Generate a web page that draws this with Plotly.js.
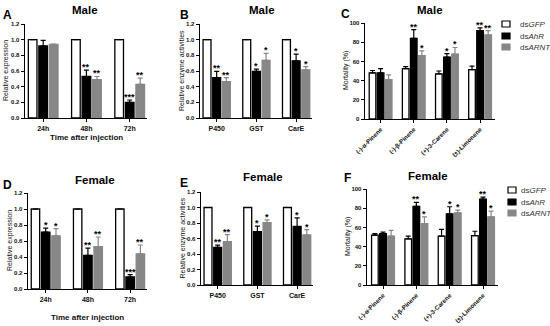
<!DOCTYPE html>
<html><head><meta charset="utf-8">
<script src="https://cdn.plot.ly/plotly-3.0.1.min.js"></script>
<style>html,body{margin:0;padding:0;background:#fff}#chart{width:550px;height:326px}</style>
</head><body><div id="chart"></div>
<script>
// ---------- data ----------
const timeCats = ['24h', '48h', '72h'];
const enzymeCats = ['P450', 'GST', 'CarE'];
const terpCats = ['(-)-α-Pinene', '(-)-β-Pinene', '(+)-3-Carene', '(±)-Limonene'];
const seriesNames = ['ds<i>GFP</i>', 'ds<i>AhR</i>', 'ds<i>ARNT</i>'];

// A: male relative expression
const maleExpGFP = [1, 1, 1], maleExpGFPErr = [0, 0, 0];
const maleExpAhR = [0.92, 0.53, 0.20], maleExpAhRErr = [0.07, 0.08, 0.03];
const maleExpARNT = [0.94, 0.49, 0.43], maleExpARNTErr = [0.005, 0.04, 0.08];
const maleExpAhRSig = ['', '**', '***'], maleExpARNTSig = ['', '**', '**'];

// B: male enzyme activities
const maleEnzGFP = [1, 1, 1], maleEnzGFPErr = [0, 0, 0];
const maleEnzAhR = [0.515, 0.595, 0.73], maleEnzAhRErr = [0.08, 0.03, 0.085];
const maleEnzARNT = [0.465, 0.735, 0.615], maleEnzARNTErr = [0.05, 0.09, 0.04];
const maleEnzAhRSig = ['**', '*', '*'], maleEnzARNTSig = ['**', '*', '*'];

// C: male mortality
const maleMortGFP = [48, 52.5, 47, 51.5], maleMortGFPErr = [2.5, 2, 3, 3.5];
const maleMortAhR = [48, 84, 64.5, 92], maleMortAhRErr = [4.5, 9, 3.5, 3];
const maleMortARNT = [41, 66, 67.5, 87.5], maleMortARNTErr = [5, 5, 7, 4.5];
const maleMortAhRSig = ['', '**', '*', '**'], maleMortARNTSig = ['', '*', '*', '**'];

// D: female relative expression
const femExpGFP = [1, 1, 1], femExpGFPErr = [0, 0, 0];
const femExpAhR = [0.71, 0.42, 0.15], femExpAhRErr = [0.05, 0.09, 0.03];
const femExpARNT = [0.665, 0.53, 0.44], femExpARNTErr = [0.09, 0.12, 0.11];
const femExpAhRSig = ['*', '**', '***'], femExpARNTSig = ['*', '**', '**'];

// E: female enzyme activities
const femEnzGFP = [1, 1, 1], femEnzGFPErr = [0, 0, 0];
const femEnzAhR = [0.485, 0.69, 0.755], femEnzAhRErr = [0.03, 0.07, 0.11];
const femEnzARNT = [0.56, 0.805, 0.645], femEnzARNTErr = [0.09, 0.035, 0.07];
const femEnzAhRSig = ['**', '*', '*'], femEnzARNTSig = ['**', '*', '*'];

// F: female mortality
const femMortGFP = [52, 48, 51, 51.5], femMortGFPErr = [1.5, 3, 7, 4.5];
const femMortAhR = [53.5, 82, 74, 89.5], femMortAhRErr = [1.5, 4, 7.5, 2];
const femMortARNT = [51, 64, 75, 71], femMortARNTErr = [6, 7, 3, 6];
const femMortAhRSig = ['', '**', '*', '**'], femMortARNTSig = ['', '*', '*', '*'];

// ---------- layout helpers ----------
const W = 550, H = 326;
const FONT = 'Liberation Sans, Arial, sans-serif';
const BARGAP = 0.27, BARGROUPGAP = 0.18;
const fills = ['#ffffff', '#000000', '#878787'];
const lines = ['#000000', '#000000', '#878787'];
const errCols = ['#000000', '#000000', '#878787'];
const fx = p => p / W, fy = p => 1 - p / H;

const panels = [
  {letter:'A', title:'Male', cats:timeCats, xd:[25,147], yd:[24,118], yr:[0,1.2], dt:0.2, xr:[-0.42,2.4], ang:0,
   vals:[maleExpGFP,maleExpAhR,maleExpARNT], errs:[maleExpGFPErr,maleExpAhRErr,maleExpARNTErr], sig:[null,maleExpAhRSig,maleExpARNTSig],
   ytitle:'Relative expression', ytx:6, xtitle:'Time after injection', xty:137, titlePos:[85,10], letterPos:[7,15]},
  {letter:'B', title:'Male', cats:enzymeCats, xd:[200,312], yd:[24,118], yr:[0,1.2], dt:0.2, xr:[-0.42,2.4], ang:0,
   vals:[maleEnzGFP,maleEnzAhR,maleEnzARNT], errs:[maleEnzGFPErr,maleEnzAhRErr,maleEnzARNTErr], sig:[null,maleEnzAhRSig,maleEnzARNTSig],
   ytitle:'Relative enzyme activities', ytx:182, xtitle:null, titlePos:[262,10], letterPos:[184,15]},
  {letter:'C', title:'Male', cats:terpCats, xd:[365,495], yd:[23,119], yr:[0,100], dt:20, xr:[-0.47,3.45], ang:-45,
   vals:[maleMortGFP,maleMortAhR,maleMortARNT], errs:[maleMortGFPErr,maleMortAhRErr,maleMortARNTErr], sig:[null,maleMortAhRSig,maleMortARNTSig],
   ytitle:'Mortality (%)', ytx:346, xtitle:null, titlePos:[430,10], letterPos:[345,14], leg:{box:502, text:518, rows:[24,36,47]}},
  {letter:'D', title:'Female', cats:timeCats, xd:[28,147], yd:[193,289], yr:[0,1.2], dt:0.2, xr:[-0.42,2.4], ang:0,
   vals:[femExpGFP,femExpAhR,femExpARNT], errs:[femExpGFPErr,femExpAhRErr,femExpARNTErr], sig:[null,femExpAhRSig,femExpARNTSig],
   ytitle:'Relative expression', ytx:10, xtitle:'Time after injection', xty:317, titlePos:[95,180], letterPos:[7,185]},
  {letter:'E', title:'Female', cats:enzymeCats, xd:[201,313], yd:[192,285], yr:[0,1.2], dt:0.2, xr:[-0.42,2.4], ang:0,
   vals:[femEnzGFP,femEnzAhR,femEnzARNT], errs:[femEnzGFPErr,femEnzAhRErr,femEnzARNTErr], sig:[null,femEnzAhRSig,femEnzARNTSig],
   ytitle:'Relative enzyme activities', ytx:182, xtitle:null, titlePos:[263,177], letterPos:[184,183]},
  {letter:'F', title:'Female', cats:terpCats, xd:[367,498], yd:[189,285], yr:[0,100], dt:20, xr:[-0.48,3.45], ang:-45,
   vals:[femMortGFP,femMortAhR,femMortARNT], errs:[femMortGFPErr,femMortAhRErr,femMortARNTErr], sig:[null,femMortAhRSig,femMortARNTSig],
   ytitle:'Mortality (%)', ytx:348, xtitle:null, titlePos:[428,176], letterPos:[347,178], leg:{box:508, text:519, rows:[190,202,213]}}
];

const data = [];
const annotations = [];
const shapes = [];
const layout = {
  width: W, height: H, margin: {l:0, r:0, t:0, b:0},
  paper_bgcolor: '#fff', plot_bgcolor: 'rgba(0,0,0,0)',
  barmode: 'group', bargap: BARGAP, bargroupgap: BARGROUPGAP,
  font: {family: FONT, size: 8, color: '#111'},
  showlegend: false,
  annotations: annotations, shapes: shapes
};

panels.forEach((p, pi) => {
  const n = pi + 1;
  const xs = n === 1 ? 'x' : 'x' + n, ys = n === 1 ? 'y' : 'y' + n;
  const xk = n === 1 ? 'xaxis' : 'xaxis' + n, yk = n === 1 ? 'yaxis' : 'yaxis' + n;
  const idx = p.cats.map((c, i) => i);
  for (let k = 0; k < 3; k++) {
    data.push({
      type: 'bar', x: idx, y: p.vals[k], xaxis: xs, yaxis: ys,
      name: seriesNames[k], offsetgroup: String(k), showlegend: false,
      marker: {color: fills[k], line: {color: lines[k], width: 1.3}},
      error_y: {type: 'data', symmetric: false, array: p.errs[k], arrayminus: p.errs[k].map(() => 0),
                visible: true, color: errCols[k], thickness: 1.2, width: 2.5},
      hoverinfo: 'skip'
    });
    if (p.sig[k]) {
      const slot = (1 - BARGAP) / 3;
      p.sig[k].forEach((s, i) => {
        if (!s) return;
        annotations.push({xref: xs, yref: ys, x: i + (k - 1) * slot, y: p.vals[k][i] + p.errs[k][i],
          text: s, showarrow: false, yanchor: 'bottom', yshift: -4,
          font: {family: FONT, size: 9, color: '#000', weight: 'bold'}});
      });
    }
  }
  layout[xk] = {domain: [fx(p.xd[0]), fx(p.xd[1])], anchor: ys, range: p.xr,
    tickvals: idx, ticktext: p.cats, tickangle: p.ang,
    showline: true, linecolor: '#000', linewidth: 1.4, ticks: 'outside', ticklen: 3, tickwidth: 1, tickcolor: '#000',
    showgrid: false, zeroline: false,
    tickfont: {family: FONT, size: p.ang ? 6.2 : 7, color: '#111', weight: 'bold'}};
  layout[yk] = {domain: [fy(p.yd[1]), fy(p.yd[0])], anchor: xs, range: p.yr, dtick: p.dt, tick0: 0,
    tickformat: p.dt < 1 ? '.1f' : 'd',
    showline: true, linecolor: '#000', linewidth: 1.4, ticks: 'outside', ticklen: 3, tickwidth: 1, tickcolor: '#000',
    showgrid: false, zeroline: false,
    tickfont: {family: FONT, size: 6, color: '#111', weight: 'bold'}};
  // panel title
  annotations.push({xref:'paper', yref:'paper', x: fx(p.titlePos[0]), y: fy(p.titlePos[1]), text: p.title,
    showarrow:false, xanchor:'center', yanchor:'middle', font:{family:FONT, size:11.5, color:'#000', weight:'bold'}});
  // panel letter
  annotations.push({xref:'paper', yref:'paper', x: fx(p.letterPos[0]), y: fy(p.letterPos[1]), text: p.letter,
    showarrow:false, xanchor:'center', yanchor:'middle', font:{family:FONT, size:12, color:'#000', weight:'bold'}});
  // y title
  annotations.push({xref:'paper', yref:'paper', x: fx(p.ytx), y: fy((p.yd[0] + p.yd[1]) / 2), text: p.ytitle,
    textangle: -90, showarrow:false, xanchor:'center', yanchor:'middle', font:{family:FONT, size:7, color:'#111'}});
  if (p.xtitle) {
    annotations.push({xref:'paper', yref:'paper', x: fx((p.xd[0] + p.xd[1]) / 2), y: fy(p.xty), text: p.xtitle,
      showarrow:false, xanchor:'center', yanchor:'middle', font:{family:FONT, size:8, color:'#111', weight:'bold'}});
  }
  if (p.leg) {
    seriesNames.forEach((nm, k) => {
      const r = p.leg.rows[k];
      shapes.push({type:'rect', xref:'paper', yref:'paper', x0: fx(p.leg.box), x1: fx(p.leg.box + 8),
        y0: fy(r + 3), y1: fy(r - 3), fillcolor: fills[k], line: {color: lines[k], width: 1.2}});
      annotations.push({xref:'paper', yref:'paper', x: fx(p.leg.text), y: fy(r), text: nm, showarrow:false,
        xanchor:'left', yanchor:'middle', font:{family:FONT, size:8, color:'#333'}});
    });
  }
});

Plotly.newPlot('chart', data, layout, {staticPlot: true, displayModeBar: false});
</script></body></html>
